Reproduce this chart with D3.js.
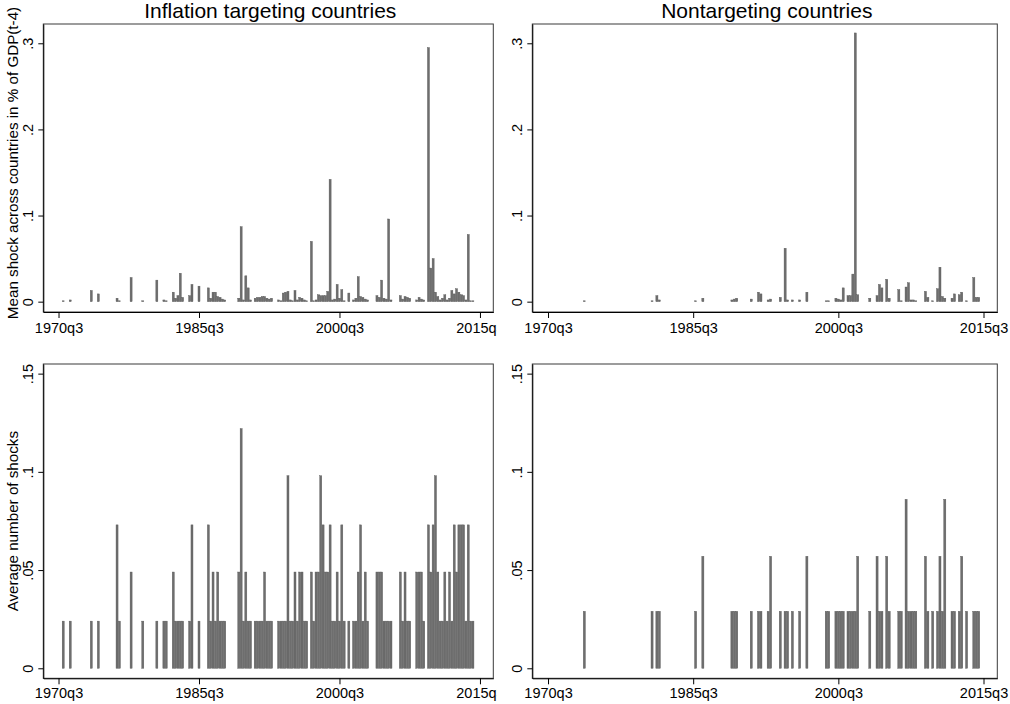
<!DOCTYPE html>
<html><head><meta charset="utf-8">
<script src="https://cdn.jsdelivr.net/npm/d3@7"></script>
<style>
body{margin:0;background:#fff}
svg{display:block}
text{font-family:"Liberation Sans",Arial,Helvetica,sans-serif;fill:#000}
</style>
</head><body>
<svg id="chart" width="1010" height="704"></svg>
<script>
// ---------------- DATA ----------------
const startQuarter = "1970q3";
const xTickLabels = ["1970q3", "1985q3", "2000q3", "2015q3"];
const panelTitles = ["Inflation targeting countries", "Nontargeting countries"];
const yTitles = ["Mean shock across countries in % of GDP(t-4)", "Average number of shocks"];
const yTicksTop = [0, 0.1, 0.2, 0.3];
const yTickLabelsTop = ["0", ".1", ".2", ".3"];
const yTicksBottom = [0, 0.05, 0.1, 0.15];
const yTickLabelsBottom = ["0", ".05", ".1", ".15"];

// quarterly values, starting 1970q3 (one line per year)
const itMeanShock = [
  0,0,                       // 1970 q3-q4
  .001,0,0,.002,             // 1971
  0,0,0,0,                   // 1972
  0,0,0,0,                   // 1973
  .013,0,0,.009,             // 1974
  0,0,0,0,                   // 1975
  0,0,0,.004,                // 1976
  .001,0,0,0,                // 1977
  0,.028,0,0,                // 1978
  0,0,.001,0,                // 1979
  0,0,0,0,                   // 1980
  .025,0,0,.002,             // 1981
  .001,0,0,.011,             // 1982
  .004,.007,.033,.005,       // 1983
  0,0,.007,.020,             // 1984
  0,0,.018,0,                // 1985
  0,0,.016,.004,             // 1986
  .011,.011,.006,.005,       // 1987
  .003,.002,0,0,             // 1988
  0,0,0,.004,                // 1989
  .087,.002,.030,.016,       // 1990
  .002,0,.004,.005,          // 1991
  .005,.006,.006,.004,       // 1992
  .003,.004,0,0,             // 1993
  .002,.001,.010,.011,       // 1994
  .012,.002,.001,.013,       // 1995
  .002,.005,.004,.002,       // 1996
  .001,0,.070,.001,          // 1997
  .002,.008,.007,.007,       // 1998
  .007,.012,.142,.002,       // 1999
  .003,.020,.004,.014,       // 2000
  .001,0,.010,0,             // 2001
  .002,.004,.029,.006,       // 2002
  .005,.003,.002,0,          // 2003
  0,0,.007,.005,             // 2004
  .025,.004,.003,.096,       // 2005
  .002,0,0,0,                // 2006
  .007,.003,.006,.005,       // 2007
  .004,0,0,.002,             // 2008
  .005,.003,.002,0,          // 2009
  .295,.039,.050,.011,       // 2010
  .006,.002,.004,.008,       // 2011
  .002,.004,.013,.009,       // 2012
  .015,.011,.008,.007,       // 2013
  .002,.078,.001,.001,       // 2014
  0,0,0                      // 2015 q1-q3
];

const ntMeanShock = [
  0,0,                       // 1970
  0,0,0,0,                   // 1971
  0,0,0,0,                   // 1972
  0,0,0,0,                   // 1973
  0,.001,0,0,                // 1974
  0,0,0,0,                   // 1975
  0,0,0,0,                   // 1976
  0,0,0,0,                   // 1977
  0,0,0,0,                   // 1978
  0,0,0,0,                   // 1979
  0,0,0,0,                   // 1980
  0,.001,0,.007,             // 1981
  .002,0,0,0,                // 1982
  0,0,0,0,                   // 1983
  0,0,0,0,                   // 1984
  0,0,0,.001,                // 1985
  0,0,.004,0,                // 1986
  0,0,0,0,                   // 1987
  0,0,0,0,                   // 1988
  0,0,.002,.003,             // 1989
  .004,0,0,0,                // 1990
  0,0,.003,0,                // 1991
  0,.011,.009,0,             // 1992
  0,.002,.003,0,             // 1993
  0,0,.005,0,                // 1994
  .062,.002,0,.002,          // 1995
  0,0,.002,0,                // 1996
  0,.011,0,0,                // 1997
  0,0,0,0,                   // 1998
  0,.001,.001,0,             // 1999
  0,.004,.003,.002,          // 2000
  .016,0,.007,.007,          // 2001
  .032,.312,.008,0,          // 2002
  0,0,0,.004,                // 2003
  0,0,.007,.020,             // 2004
  .016,0,.026,.004,          // 2005
  0,0,0,.014,                // 2006
  .001,0,.017,.022,          // 2007
  .002,.002,.001,0,          // 2008
  0,0,.012,.005,             // 2009
  0,.001,0,.015,             // 2010
  .040,.006,.004,0,          // 2011
  0,.004,.009,0,             // 2012
  .008,.011,0,.001,          // 2013
  0,0,.028,.005,             // 2014
  .005,0,0                   // 2015
];

const itAvgShocks = [
  0,0,                       // 1970
  .024,0,0,.024,             // 1971
  0,0,0,0,                   // 1972
  0,0,0,0,                   // 1973
  .024,0,0,.024,             // 1974
  0,0,0,0,                   // 1975
  0,0,0,.073,                // 1976
  .024,0,0,0,                // 1977
  0,.049,0,0,                // 1978
  0,0,.024,0,                // 1979
  0,0,0,0,                   // 1980
  .024,0,0,.024,             // 1981
  .024,0,0,.049,             // 1982
  .024,.024,.024,.024,       // 1983
  0,0,.024,.073,             // 1984
  0,0,.024,0,                // 1985
  0,0,.073,.024,             // 1986
  .049,.024,.049,.024,       // 1987
  .024,.024,0,0,             // 1988
  0,0,0,.049,                // 1989
  .122,.024,.049,.024,       // 1990
  .024,0,.024,.024,          // 1991
  .024,.024,.049,.024,       // 1992
  .024,.024,0,0,             // 1993
  .024,.024,.024,.024,       // 1994
  .098,.024,.024,.049,       // 1995
  .024,.049,.049,.024,       // 1996
  .024,0,.049,.024,          // 1997
  .049,.049,.098,.073,       // 1998
  .049,.049,.073,.024,       // 1999
  .024,.049,.024,.073,       // 2000
  .024,0,.024,0,             // 2001
  .024,.024,.049,.073,       // 2002
  .024,.049,.024,0,          // 2003
  0,0,.049,.049,             // 2004
  .049,.024,.024,.024,       // 2005
  .024,0,0,0,                // 2006
  .049,.024,.049,.024,       // 2007
  .024,0,0,.049,             // 2008
  .049,.049,.024,0,          // 2009
  .073,.049,.073,.098,       // 2010
  .049,.024,.024,.049,       // 2011
  .024,.049,.024,.073,       // 2012
  .049,.073,.073,.073,       // 2013
  .024,.073,.024,.024,       // 2014
  0,0,0                      // 2015
];

const ntAvgShocks = [
  0,0,                       // 1970
  0,0,0,0,                   // 1971
  0,0,0,0,                   // 1972
  0,0,0,0,                   // 1973
  0,.029,0,0,                // 1974
  0,0,0,0,                   // 1975
  0,0,0,0,                   // 1976
  0,0,0,0,                   // 1977
  0,0,0,0,                   // 1978
  0,0,0,0,                   // 1979
  0,0,0,0,                   // 1980
  0,.029,0,.029,             // 1981
  .029,0,0,0,                // 1982
  0,0,0,0,                   // 1983
  0,0,0,0,                   // 1984
  0,0,0,.029,                // 1985
  0,0,.057,0,                // 1986
  0,0,0,0,                   // 1987
  0,0,0,0,                   // 1988
  0,0,.029,.029,             // 1989
  .029,0,0,0,                // 1990
  0,0,.029,0,                // 1991
  0,.029,.029,0,             // 1992
  0,.029,.057,0,             // 1993
  0,0,.029,0,                // 1994
  .029,.029,0,.029,          // 1995
  0,0,.029,0,                // 1996
  0,.057,0,0,                // 1997
  0,0,0,0,                   // 1998
  0,.029,.029,0,             // 1999
  0,.029,.029,.029,          // 2000
  .029,0,.029,.029,          // 2001
  .029,.029,.057,0,          // 2002
  0,0,0,.029,                // 2003
  0,0,.057,.029,             // 2004
  .029,0,.057,.029,          // 2005
  0,0,0,.029,                // 2006
  .029,0,.086,.029,          // 2007
  .029,.029,.029,0,          // 2008
  0,0,.057,.029,             // 2009
  0,.029,0,.029,             // 2010
  .057,.029,.086,0,          // 2011
  0,.029,.029,0,             // 2012
  .029,.057,0,.029,          // 2013
  0,0,.029,.029,             // 2014
  .029,0,0                   // 2015
];

// ---------------- LAYOUT ----------------
const svg = d3.select("#chart");
const startYear = +startQuarter.slice(0, 4), startQ = +startQuarter.slice(5);
const quarters = itMeanShock.map((_, i) => {
  const n = startYear * 4 + (startQ - 1) + i;
  return Math.floor(n / 4) + "q" + (n % 4 + 1);
});
const tickIdx = xTickLabels.map(l => quarters.indexOf(l));

const panels = [
  {data: itMeanShock, col: 0, row: 0, x: [43.3, 493.3], y: [312, 24], dom: [-0.012, 0.3224], ticks: yTicksTop, tl: yTickLabelsTop},
  {data: ntMeanShock, col: 1, row: 0, x: [532.3, 997.3], y: [312, 24], dom: [-0.012, 0.3224], ticks: yTicksTop, tl: yTickLabelsTop},
  {data: itAvgShocks, col: 0, row: 1, x: [43.3, 493.3], y: [678.3, 364], dom: [-0.0051, 0.1549], ticks: yTicksBottom, tl: yTickLabelsBottom},
  {data: ntAvgShocks, col: 1, row: 1, x: [532.3, 997.3], y: [678.3, 364], dom: [-0.0051, 0.1549], ticks: yTicksBottom, tl: yTickLabelsBottom}
];

const defs = svg.append("defs");
defs.append("clipPath").attr("id", "clipL").append("rect").attr("x", 0).attr("y", 0).attr("width", 497).attr("height", 704);
defs.append("clipPath").attr("id", "clipR").append("rect").attr("x", 500).attr("y", 0).attr("width", 510).attr("height", 704);

panels.forEach(p => {
  const g = svg.append("g").attr("clip-path", p.col === 0 ? "url(#clipL)" : "url(#clipR)");
  const xs = d3.scaleLinear().domain([-6.5, 185.7]).range(p.x);
  const ys = d3.scaleLinear().domain(p.dom).range(p.y);
  const step = xs(1) - xs(0);
  const bw = step * 0.86;

  // plot frame
  g.append("rect").attr("x", p.x[0]).attr("y", p.y[1])
    .attr("width", p.x[1] - p.x[0]).attr("height", p.y[0] - p.y[1])
    .attr("fill", "none").attr("stroke", "#3a3a3a").attr("stroke-width", 1);

  // bars
  g.append("g").selectAll("rect")
    .data(p.data.map((v, i) => ({i, v})).filter(d => d.v > 0))
    .join("rect")
    .attr("x", d => xs(d.i) - bw / 2)
    .attr("width", bw)
    .attr("y", d => ys(d.v))
    .attr("height", d => ys(0) - ys(d.v))
    .attr("fill", "#6e6e6e")
    .attr("stroke", "#555")
    .attr("stroke-width", 0.4);

  // x axis
  const xa = g.append("g").attr("transform", `translate(0,${p.y[0]})`)
    .call(d3.axisBottom(xs).tickValues(tickIdx).tickFormat((d, k) => xTickLabels[k]).tickSize(6).tickSizeOuter(0));
  xa.select(".domain").attr("stroke", "#000");
  xa.selectAll(".tick line").attr("stroke", "#000");
  xa.selectAll(".tick text").attr("y", p.row === 0 ? 21 : 19.5).attr("dy", 0)
    .style("font-size", "14.5px").style("font-family", "'Liberation Sans', Arial, sans-serif");

  // y axis
  const ya = g.append("g").attr("transform", `translate(${p.x[0]},0)`)
    .call(d3.axisLeft(ys).tickValues(p.ticks).tickFormat((d, k) => p.tl[k]).tickSize(5).tickSizeOuter(0));
  ya.select(".domain").attr("stroke", "#000");
  ya.selectAll(".tick line").attr("stroke", "#000");
  ya.selectAll(".tick text")
    .attr("transform", "rotate(-90)").attr("x", 0).attr("y", -10).attr("dy", 0)
    .attr("text-anchor", "middle")
    .style("font-size", "14.5px").style("font-family", "'Liberation Sans', Arial, sans-serif");

  // titles
  if (p.row === 0) {
    svg.append("text").attr("x", (p.x[0] + p.x[1]) / 2 + 2).attr("y", 17.5)
      .attr("text-anchor", "middle").style("font-size", "21px").text(panelTitles[p.col]);
  }
  if (p.col === 0) {
    const cy = p.row === 0 ? 163 : (p.y[0] + p.y[1]) / 2;
    svg.append("text").attr("transform", `translate(17.5,${cy}) rotate(-90)`)
      .attr("text-anchor", "middle").style("font-size", "15.2px").text(yTitles[p.row]);
  }
});
</script>
</body></html>
